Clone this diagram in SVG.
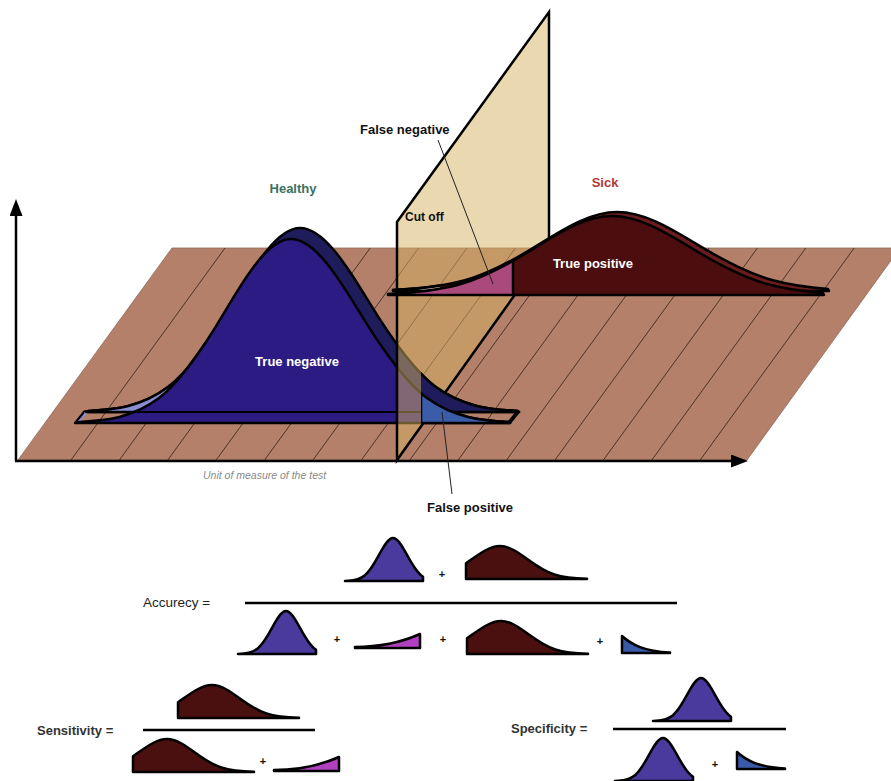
<svg xmlns="http://www.w3.org/2000/svg" width="891" height="781" viewBox="0 0 891 781">
<defs>
<style>
.lbl{font-family:"Liberation Sans",Arial,Helvetica,sans-serif;font-weight:bold;font-size:13px}
.w{fill:#ffffff}
.ol{stroke:#000;stroke-width:2.5;stroke-linejoin:round}
.stripe{stroke:#3e2a22;stroke-width:0.9;fill:none}
.lead{stroke:#222;stroke-width:1;fill:none}
.frac{stroke:#000;stroke-width:2.5}
.plus{font-family:"Liberation Sans",Arial,sans-serif;font-size:11px;font-weight:bold;fill:#111;text-anchor:middle}
.axis{stroke:#000;stroke-width:2.5;fill:none}
</style>
<clipPath id="floorClip"><polygon points="18,460 172,248 900,248 747,460"/></clipPath>
<clipPath id="cR421"><rect x="421" y="0" width="470" height="781"/></clipPath>
<clipPath id="cL215"><rect x="0" y="0" width="215" height="781"/></clipPath>
<clipPath id="cL513"><rect x="0" y="0" width="513" height="781"/></clipPath>
<clipPath id="cR513"><rect x="513" y="0" width="378" height="781"/></clipPath>
<clipPath id="cL440"><rect x="0" y="0" width="440" height="781"/></clipPath>
<path id="hCurve" d="M75,423 L79.8,421.9 C106.2,420.5 132.6,418 159,398.1 C181,381.5 203,348.6 225,311.4 C247,274.1 269,239 291,239 C313.6,239 336.4,274.1 359,311.4 C381.6,348.6 404.4,381.5 427,398.1 C454.2,418 481.4,420.5 508.6,421.9 L510,423 Z"/>
<path id="sCurve" d="M388,295 L388,294 C412,293 436,291 460,284.3 C485.3,277.2 510.7,263.1 536,247.1 C561.3,231.1 586.7,216 612,216 C638,216 664,231.1 690,247.1 C716,263.1 742,277.2 768,284.3 C786.3,289.3 804.7,291.7 823,293 L824,295 Z"/>
<marker id="arrow" viewBox="0 0 10 10" refX="0" refY="5" markerUnits="userSpaceOnUse" markerWidth="17" markerHeight="13" orient="auto" preserveAspectRatio="none">
<path d="M0,0 L10,5 L0,10 Z" fill="#000"/>
</marker>
<path id="hIcon" d="M0,44 L3.2,43.7 C8.8,43.4 14.4,42.8 20,38.2 C24.7,34.3 29.3,26.6 34,17.9 C38.7,9.2 43.3,1 48,1 C52.7,1 57.3,9.2 62,17.9 C66.7,26.6 71.3,34.3 76,38.2 L78,39.7 L78,44 Z" fill="#4a3a9e" stroke="#000" stroke-width="2.5" stroke-linejoin="round"/>
<path id="sIcon" d="M0,34 L0,18.2 C11.3,10.5 22.7,1 34,1 C43.1,1 52.1,7.3 61.2,14 C70.3,20.7 79.3,26.6 88.4,29.5 C99.3,33.1 110.2,33.55 121,33.8 L121,34 Z" fill="#4a0f0f" stroke="#000" stroke-width="2.5" stroke-linejoin="round"/>
<path id="fnIcon" d="M0,14 L0,13 C25,13 45,9 65,0 L65,14 Z" fill="#b040c0" stroke="#000" stroke-width="2.5" stroke-linejoin="round"/>
<path id="fpIcon" d="M0,17 L0,0 C10,9 22,15 48,16.5 L48,17 Z" fill="#3a5aa8" stroke="#000" stroke-width="2.5" stroke-linejoin="round"/>
</defs>

<rect width="891" height="781" fill="#ffffff"/>

<g id="floor">
<polygon points="18,460 172,248 900,248 747,460" fill="#b4806a" stroke="#8a6a5a" stroke-width="0.8"/>
<path class="stripe" clip-path="url(#floorClip)" d="M225,248L71,460M273.4,248L119.4,460M321.8,248L167.8,460M370.2,248L216.2,460M418.6,248L264.6,460M467,248L313,460M515.4,248L361.4,460M563.8,248L409.8,460M612.2,248L458.2,460M660.6,248L506.6,460M709,248L555,460M757.4,248L603.4,460M805.8,248L651.8,460M854.2,248L700.2,460"/>
</g>

<g id="healthy-curve">
<use href="#hCurve" transform="translate(9,-11)" fill="#1e1c5a" class="ol"/>
<g clip-path="url(#cL215)"><use href="#hCurve" transform="translate(9,-11)" fill="#8a8ed0" class="ol"/></g>
<polygon points="75,423 79.8,421.9 88.8,410.9 84,412" fill="#8a8ed0"/>
<use href="#hCurve" fill="#2d1b84" class="ol"/>
<line x1="85" y1="412" x2="421" y2="412" stroke="#000" stroke-width="2"/>
<line x1="75" y1="423" x2="84" y2="412" stroke="#000" stroke-width="2"/>
</g>

<g id="cutoff-plane">
<polygon points="397,460 397,222 549,12 549,247" fill="#d6b262" fill-opacity="0.5" stroke="#000" stroke-width="2.5" stroke-linejoin="miter"/>
</g>

<g id="false-positive" clip-path="url(#cR421)">
<use href="#hCurve" transform="translate(9,-11)" fill="#1e1c5a" class="ol"/>
<use href="#hCurve" fill="#3b5ca8" class="ol"/>
<polygon points="508.6,421.9 510,423 519,412 517.6,410.9" fill="#1e1c5a" stroke="#000" stroke-width="2" stroke-linejoin="round"/>
<line x1="421" y1="393.4" x2="421" y2="423" stroke="#000" stroke-width="2.5"/>
</g>

<g id="sick-curve">
<use href="#sCurve" transform="translate(5,-4)" fill="#6b1c1c" class="ol"/>
<g clip-path="url(#cL440)"><use href="#sCurve" transform="translate(5,-4)" fill="#e6dde0" class="ol"/></g>
<g clip-path="url(#cL513)"><use href="#sCurve" fill="#aa4a7c" class="ol"/></g>
<g clip-path="url(#cR513)"><use href="#sCurve" fill="#4b0d0e" class="ol"/></g>
<line x1="513" y1="261" x2="513" y2="295" stroke="#000" stroke-width="2.5"/>
</g>

<g id="axes">
<line class="axis" x1="16" y1="461" x2="16" y2="216" marker-end="url(#arrow)"/>
<line class="axis" x1="15" y1="461" x2="731" y2="461" marker-end="url(#arrow)"/>
</g>

<g id="connectors">
<line class="lead" x1="438" y1="140" x2="493" y2="284"/>
<line class="lead" x1="442" y1="412" x2="452" y2="494"/>
</g>

<g id="labels">
<text class="lbl" x="293" y="193" text-anchor="middle" fill="#3d705f">Healthy</text>
<text class="lbl" x="605" y="187" text-anchor="middle" fill="#b03838">Sick</text>
<text class="lbl" x="405" y="221" style="font-size:12px" fill="#111">Cut off</text>
<text class="lbl" x="360" y="134" fill="#111">False negative</text>
<text class="lbl w" x="297" y="366" text-anchor="middle">True negative</text>
<text class="lbl w" x="593" y="268" text-anchor="middle">True positive</text>
<text class="lbl" x="427" y="512" fill="#111">False positive</text>
<text x="203" y="479" font-family="Liberation Sans, Arial, sans-serif" font-style="italic" font-size="10.5" fill="#8a8a8a">Unit of measure of the test</text>
</g>

<g id="accuracy">
<text x="143" y="607" font-family="Liberation Sans, Arial, sans-serif" font-size="13.5" fill="#222">Accurecy =</text>
<use href="#hIcon" transform="translate(345,537)"/>
<text class="plus" x="442" y="578">+</text>
<use href="#sIcon" transform="translate(466,545)"/>
<line class="frac" x1="245" y1="603" x2="677" y2="603"/>
<use href="#hIcon" transform="translate(238,610)"/>
<text class="plus" x="337" y="643">+</text>
<use href="#fnIcon" transform="translate(355,634)"/>
<text class="plus" x="443" y="643">+</text>
<use href="#sIcon" transform="translate(467,620)"/>
<text class="plus" x="600" y="645">+</text>
<use href="#fpIcon" transform="translate(622,636)"/>
</g>

<g id="sensitivity">
<text class="lbl" x="37" y="735" fill="#333">Sensitivity =</text>
<use href="#sIcon" transform="translate(178,684)"/>
<line class="frac" x1="143" y1="730" x2="315" y2="730"/>
<use href="#sIcon" transform="translate(133,738)"/>
<text class="plus" x="263" y="765">+</text>
<use href="#fnIcon" transform="translate(274,757)"/>
</g>

<g id="specificity">
<text class="lbl" x="511" y="733" fill="#333">Specificity =</text>
<use href="#hIcon" transform="translate(653,677)"/>
<line class="frac" x1="613" y1="729" x2="786" y2="729"/>
<use href="#hIcon" transform="translate(615,737)"/>
<text class="plus" x="715" y="768">+</text>
<use href="#fpIcon" transform="translate(737,752)"/>
</g>
</svg>
